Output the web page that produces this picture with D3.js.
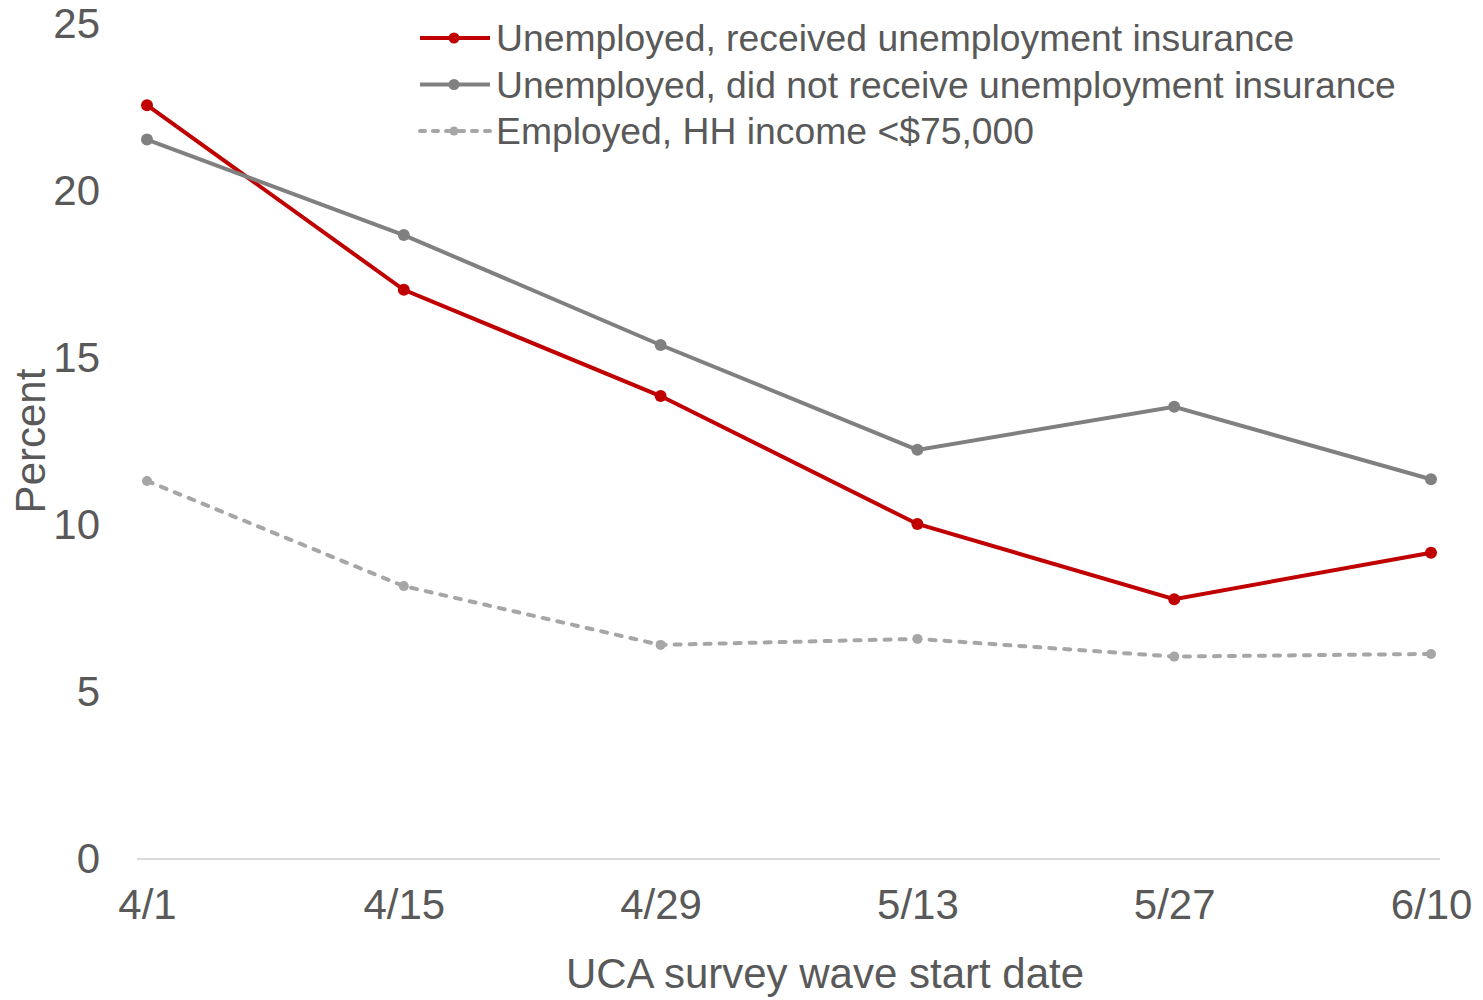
<!DOCTYPE html>
<html>
<head>
<meta charset="utf-8">
<script src="https://cdn.jsdelivr.net/npm/d3@7"></script>
<style>
  html, body { margin: 0; padding: 0; background: #fff; }
  svg { display: block; font-family: "Liberation Sans", Arial, sans-serif; }
</style>
</head>
<body>
<svg id="chart" width="1483" height="1000"></svg>
<script>
// Survey wave start dates (UCA)
const waves = ["4/1", "4/15", "4/29", "5/13", "5/27", "6/10"];

// Percent of respondents in each group
const receivedUI = [22.57, 17.04, 13.86, 10.03, 7.78, 9.17];
const noUI = [21.54, 18.68, 15.39, 12.25, 13.54, 11.37];
const employedLowIncome = [11.32, 8.17, 6.41, 6.59, 6.06, 6.14];

const yTicks = [0, 5, 10, 15, 20, 25];

const seriesNames = [
  "Unemployed, received unemployment insurance",
  "Unemployed, did not receive unemployment insurance",
  "Employed, HH income <$75,000"
];

const series = [
  { name: seriesNames[0], values: receivedUI, color: "#C00000", dash: null, r: 6 },
  { name: seriesNames[1], values: noUI, color: "#808080", dash: null, r: 6 },
  { name: seriesNames[2], values: employedLowIncome, color: "#A6A6A6", dash: "6,9", r: 5 }
];

const svg = d3.select("#chart");
const textColor = "#595959";
const axisFont = "42px";

const x = d3.scalePoint().domain(waves).range([147, 1431]);
const y = d3.scaleLinear().domain([0, 25]).range([859, 24]);

// Baseline at zero
svg.append("line")
  .attr("x1", 137).attr("x2", 1440)
  .attr("y1", y(0)).attr("y2", y(0))
  .attr("stroke", "#D9D9D9").attr("stroke-width", 2);

// Y axis labels
const yAxis = d3.axisLeft(y).tickValues(yTicks).tickSize(0).tickPadding(0);
const gy = svg.append("g").attr("transform", "translate(100,0)").call(yAxis);
gy.select(".domain").remove();
gy.selectAll("text")
  .attr("fill", textColor).style("font-size", axisFont)
  .attr("font-family", "Liberation Sans, Arial, sans-serif")
  .attr("dy", "0.33em");

// X axis labels
const xAxis = d3.axisBottom(x).tickSize(0).tickPadding(0);
const gx = svg.append("g").attr("transform", "translate(0,890)").call(xAxis);
gx.select(".domain").remove();
gx.selectAll("text")
  .attr("fill", textColor).style("font-size", axisFont)
  .attr("font-family", "Liberation Sans, Arial, sans-serif")
  .attr("dy", "0.7em");

// Axis titles
svg.append("text")
  .attr("x", 825).attr("y", 988)
  .attr("text-anchor", "middle")
  .attr("fill", textColor).style("font-size", axisFont)
  .text("UCA survey wave start date");

svg.append("text")
  .attr("transform", "translate(45,441) rotate(-90)")
  .attr("text-anchor", "middle")
  .attr("fill", textColor).style("font-size", axisFont)
  .text("Percent");

// Lines and markers
const line = d3.line().x((d, i) => x(waves[i])).y(d => y(d));

series.forEach(s => {
  svg.append("path")
    .datum(s.values)
    .attr("d", line)
    .attr("fill", "none")
    .attr("stroke", s.color)
    .attr("stroke-width", 4)
    .attr("stroke-linecap", s.dash ? "round" : "butt")
    .attr("stroke-dasharray", s.dash);
  svg.selectAll(null)
    .data(s.values)
    .enter().append("circle")
    .attr("cx", (d, i) => x(waves[i]))
    .attr("cy", d => y(d))
    .attr("r", s.r)
    .attr("fill", s.color);
});

// Legend
const legend = svg.append("g");
series.forEach((s, i) => {
  const ly = 38 + i * 46.5;
  legend.append("line")
    .attr("x1", 420).attr("x2", 490)
    .attr("y1", ly).attr("y2", ly)
    .attr("stroke", s.color).attr("stroke-width", 4)
    .attr("stroke-linecap", s.dash ? "round" : "butt")
    .attr("stroke-dasharray", s.dash ? "5,8" : null);
  legend.append("circle")
    .attr("cx", 454).attr("cy", ly).attr("r", s.r - 0.5)
    .attr("fill", s.color);
  legend.append("text")
    .attr("x", 496).attr("y", ly)
    .attr("dy", "0.36em")
    .attr("fill", textColor).style("font-size", "37.3px")
    .text(s.name);
});
</script>
</body>
</html>
